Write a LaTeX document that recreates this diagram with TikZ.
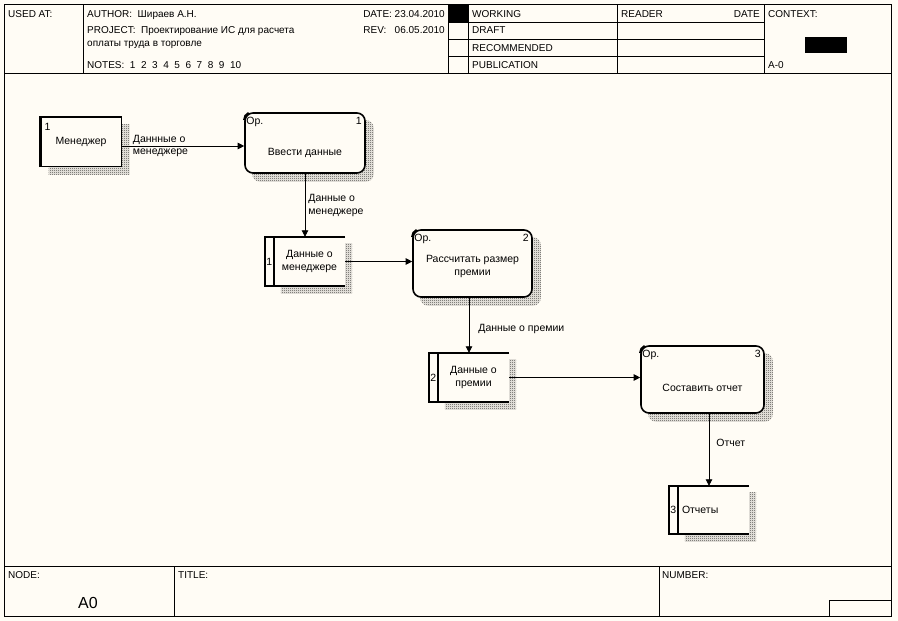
\documentclass[tikz,border=0pt]{standalone}
\usepackage{fontspec}
\setmainfont{Liberation Sans}
\usetikzlibrary{arrows.meta,patterns.meta,backgrounds,positioning}
\definecolor{paper}{RGB}{255,252,245}
\tikzdeclarepattern{name=shadowdots,type=uncolored,
  bounding box={(0pt,0pt) and (2pt,2pt)},tile size={(2pt,2pt)},
  code={\fill (0pt,0pt) rectangle (1pt,1pt); \fill (1pt,1pt) rectangle (2pt,2pt);}}

\begin{document}
\begin{tikzpicture}[x=1pt,y=-1pt,font=\fontsize{10}{12}\selectfont,
  >={Triangle[length=6.5pt,width=6.5pt]},
  box font/.style={font=\fontsize{10.5}{12.5}\selectfont},
  entity/.style={box font,draw,line width=1pt,fill=paper,minimum width=80pt,minimum height=49pt,inner sep=0pt},
  process/.style={box font,draw,line width=1.6pt,rounded corners=8pt,fill=paper,minimum width=120pt,
    minimum height=67pt,text height=26pt,align=center,inner sep=0pt},
  store/.style={box font,fill=paper,minimum width=71pt,minimum height=49pt,align=center,inner sep=2pt},
  flow/.style={->,line width=0.8pt},
  lbl/.style={box font,align=left,inner sep=0pt},
  hdr/.style={anchor=base west,inner sep=0pt},
  shadow/.style={pattern=shadowdots,pattern color=black}]
  \useasboundingbox (0,0) rectangle (898,621);

  % form
  \draw[line width=0.8pt] (4,4) rectangle (891,616);
  \draw[line width=0.8pt] (4,73.5) -- (891,73.5) (4,566) -- (891,566);
  \foreach \x in {83,448,468,617,764}
    \draw[line width=0.8pt] (\x,4) -- (\x,73.5);
  \foreach \y in {22.5,39.5,56.5}
    \draw[line width=0.8pt] (448,\y) -- (764,\y);
  \fill (448,4) rectangle (468,22.5);
  \fill (805,37) rectangle (847,53);
  \draw[line width=0.8pt] (174,566) -- (174,616) (659,566) -- (659,616) (829,616) |- (891,600);

  \path
  node[hdr] (usedat) at (8,17) {USED AT:}
  node[hdr] (author) at (87,17) {AUTHOR:\ \ Шираев А.Н.}
  node[hdr,anchor=base east] (date) at (445,17) {DATE: 23.04.2010}
  node[hdr] (project) at (87,34) {PROJECT:\ \ Проектирование ИС для расчета}
  node[hdr] (project2) at (87,46.5) {оплаты труда в торговле}
  node[hdr,anchor=base east] (rev) at (445,34) {REV:\ \ \ 06.05.2010}
  node[hdr] (notes) at (87,68.5) {NOTES:\ \ 1\ \ 2\ \ 3\ \ 4\ \ 5\ \ 6\ \ 7\ \ 8\ \ 9\ \ 10}
  node[hdr] (working) at (472,17) {WORKING}
  node[hdr] (draft) at (472,34) {DRAFT}
  node[hdr] (recommended) at (472,51) {RECOMMENDED}
  node[hdr] (publication) at (472,68.5) {PUBLICATION}
  node[hdr] (reader) at (621,17) {READER}
  node[hdr,anchor=base east] (rdate) at (760,17) {DATE}
  node[hdr] (context) at (768,17) {CONTEXT:}
  node[hdr] (ctxnode) at (768,68.5) {A-0}
  node[hdr] (nodelbl) at (8,578) {NODE:}
  node[hdr] (titlelbl) at (178,578) {TITLE:}
  node[hdr] (numberlbl) at (662,578) {NUMBER:}
  node[anchor=base,inner sep=0pt,font=\fontsize{16}{18}\selectfont] (nodeid) at (88,608) {A0}
  ;

  % diagram
  \path
  node[entity] (mgr) at (81,142) {Менеджер}
  node[process,minimum height=60pt,text height=27pt] (enter) at (305,143) {Ввести данные}
  node[store] (st1) at (309.5,261.5) {Данные о\\менеджере}
  node[process,minimum width=119pt] (calc) at (472.5,263.5) {Рассчитать размер\\премии}
  node[store] (st2) at (473.5,377.5) {Данные о\\премии}
  node[process,minimum width=123pt,text height=25pt] (report) at (702.5,379.5) {Составить отчет}
  node[store,minimum height=48pt,text width=63pt,align=left] (st3) at (713.5,510) {Отчеты}
  ;
  \draw[line width=2.5pt] (mgr.south west) -- (mgr.north west) -- (mgr.north east);
  \node[box font,anchor=north west,inner xsep=4pt,inner ysep=6pt] (mgr-num) at (mgr.north west) {1};

  \foreach \p/\n in {enter/1,calc/2,report/3}{
    \draw[line width=2.4pt] ([yshift=-8pt]\p.north west) arc[start angle=180,end angle=115,radius=8pt];
    \node[box font,anchor=north west,inner xsep=2pt,inner ysep=5pt] (\p-op) at (\p.north west) {Ор.};
    \node[box font,anchor=north east,inner xsep=4pt,inner ysep=5pt] (\p-num) at (\p.north east) {\n};
  }
  \foreach \s/\n in {st1/1,st2/2,st3/3}{
    \draw[line width=1.6pt] (\s.north east) -- ([xshift=-9pt]\s.north west)
      -- ([xshift=-9pt]\s.south west) -- (\s.south east);
    \draw[line width=1.6pt] (\s.north west) -- (\s.south west);
    \node[box font] (\s-num) at ([xshift=-4.5pt]\s.west) {\n};
  }

  \path[flow]
  ([yshift=-4pt]mgr.east) edge node[lbl,pos=0,anchor=west,xshift=11pt] {Даннные о\\менеджере}
    ([yshift=-4pt]mgr.east -| enter.west)
  (enter.south) edge node[lbl,anchor=west,xshift=3pt] {Данные о\\менеджере} (enter.south |- st1.north)
  (st1.east) edge (st1.east -| calc.west)
  ([xshift=-3.5pt]calc.south) edge node[lbl,pos=0.57,anchor=west,xshift=9pt] {Данные о премии}
    ([xshift=-3.5pt]calc.south |- st2.north)
  (st2.east) edge (st2.east -| report.west)
  ([xshift=6.5pt]report.south) edge node[lbl,pos=0.4,anchor=west,xshift=7pt] {Отчет}
    ([xshift=6.5pt]report.south |- st3.north)
  ;

  \begin{scope}[on background layer]
    \fill[paper] (0,0) rectangle (898,621);
    \fill[shadow] ([shift={(8pt,-7pt)}]mgr.south west) rectangle ([shift={(8pt,-7pt)}]mgr.north east);
    \foreach \p in {enter,calc,report}
      \fill[shadow,rounded corners=8pt] ([shift={(8pt,-8pt)}]\p.south west) rectangle ([shift={(8pt,-8pt)}]\p.north east);
    \foreach \s in {st1,st2,st3}
      \fill[shadow] ([shift={(7pt,-7pt)}]\s.south west) rectangle ([shift={(7pt,-7pt)}]\s.north east);
  \end{scope}
\end{tikzpicture}
\end{document}
